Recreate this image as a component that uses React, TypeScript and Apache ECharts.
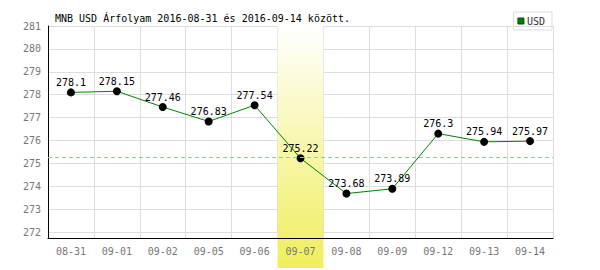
import React, { useEffect, useRef } from "react";
import * as echarts from "echarts";

const categories = ["08-31", "09-01", "09-02", "09-05", "09-06", "09-07", "09-08", "09-09", "09-12", "09-13", "09-14"];
const usdValues = [278.1, 278.15, 277.46, 276.83, 277.54, 275.22, 273.68, 273.89, 276.3, 275.94, 275.97];
const referenceValue = 275.25;
const highlightCategory = "09-07";
const titleText = "MNB USD Árfolyam 2016-08-31 és 2016-09-14 között.";
const yMin = 271.74;
const yMax = 281;

const MONO = "'DejaVu Sans Mono', monospace";

export default function App() {
  const ref = useRef<HTMLDivElement>(null);
  useEffect(() => {
    if (!ref.current) return;
    const chart = echarts.init(ref.current, undefined, { renderer: "svg" });
    chart.setOption({
      animation: false,
      backgroundColor: "#ffffff",
      title: {
        text: titleText,
        left: 50,
        top: 8,
        textStyle: { fontFamily: MONO, fontSize: 10, fontWeight: "normal", color: "#000" },
      },
      legend: {
        data: ["USD"],
        right: 48,
        top: 12,
        orient: "horizontal",
        icon: "rect",
        itemWidth: 6,
        itemHeight: 6,
        itemGap: 4,
        padding: [4, 7, 4, 4],
        borderColor: "#dddddd",
        borderWidth: 1,
        textStyle: { fontFamily: MONO, fontSize: 10, color: "#333", padding: [0, 0, 0, -2] },
        itemStyle: { color: "#008000", borderColor: "#005000", borderWidth: 1 },
      },
      grid: { left: 48, right: 47, top: 26, bottom: 32, containLabel: false },
      xAxis: [
        {
          type: "category",
          data: categories,
          boundaryGap: true,
          z: 5,
          axisLine: { show: true, lineStyle: { color: "#000", width: 1 } },
          axisTick: { show: false },
          axisLabel: { fontFamily: MONO, fontSize: 10, color: "#777", margin: 8 },
          splitLine: { show: false },
        },
        {
          type: "category",
          data: categories,
          boundaryGap: true,
          position: "bottom",
          z: 0,
          axisLine: { show: false },
          axisTick: { show: false },
          axisLabel: { show: false },
          splitLine: { show: true, lineStyle: { color: "#dddddd", width: 1 } },
        },
      ],
      yAxis: {
        type: "value",
        min: yMin,
        max: yMax,
        splitNumber: 9,
        z: 0,
        axisLine: { show: true, lineStyle: { color: "#000", width: 1 } },
        axisTick: { show: false },
        axisLabel: { fontFamily: MONO, fontSize: 10, color: "#777", margin: 7, showMinLabel: false },
        splitLine: { show: true, lineStyle: { color: "#dddddd", width: 1 } },
      },
      series: [
        {
          name: "ref",
          type: "line",
          data: [],
          z: 0,
          silent: true,
          markLine: {
            silent: true,
            symbol: "none",
            label: { show: false },
            lineStyle: { color: "#8fcc8f", type: [4, 3], width: 1 },
            data: [{ yAxis: referenceValue }],
          },
        },
        {
          name: "USD",
          type: "line",
          data: usdValues,
          z: 3,
          symbol: "circle",
          symbolSize: 8,
          lineStyle: { color: "#008000", width: 1 },
          itemStyle: { color: "#000" },
          label: {
            show: true,
            position: "top",
            distance: 1,
            fontFamily: MONO,
            fontSize: 10,
            color: "#000",
          },
        },
      ],
    });

    const c = chart.convertToPixel({ xAxisIndex: 0 }, highlightCategory) as number;
    const idx = categories.indexOf(highlightCategory);
    const next = chart.convertToPixel({ xAxisIndex: 0 }, categories[idx + 1] ?? categories[idx - 1]) as number;
    const bw = Math.abs(next - c);
    const top = chart.convertToPixel({ yAxisIndex: 0 }, yMax) as number;
    const bottom = 268;
    chart.setOption({
      graphic: [
        {
          type: "rect",
          z: 1,
          silent: true,
          shape: { x: c - bw / 2, y: top - 1, width: bw, height: bottom - top + 1 },
          style: {
            fill: new echarts.graphic.LinearGradient(0, 0, 0, 1, [
              { offset: 0, color: "#ffffff" },
              { offset: 1, color: "#f0ee5c" },
            ]),
          },
        },
      ],
    });

    return () => chart.dispose();
  }, []);
  return <div ref={ref} style={{ position: "fixed", left: 0, top: 0, width: 600, height: 270 }} />;
}
